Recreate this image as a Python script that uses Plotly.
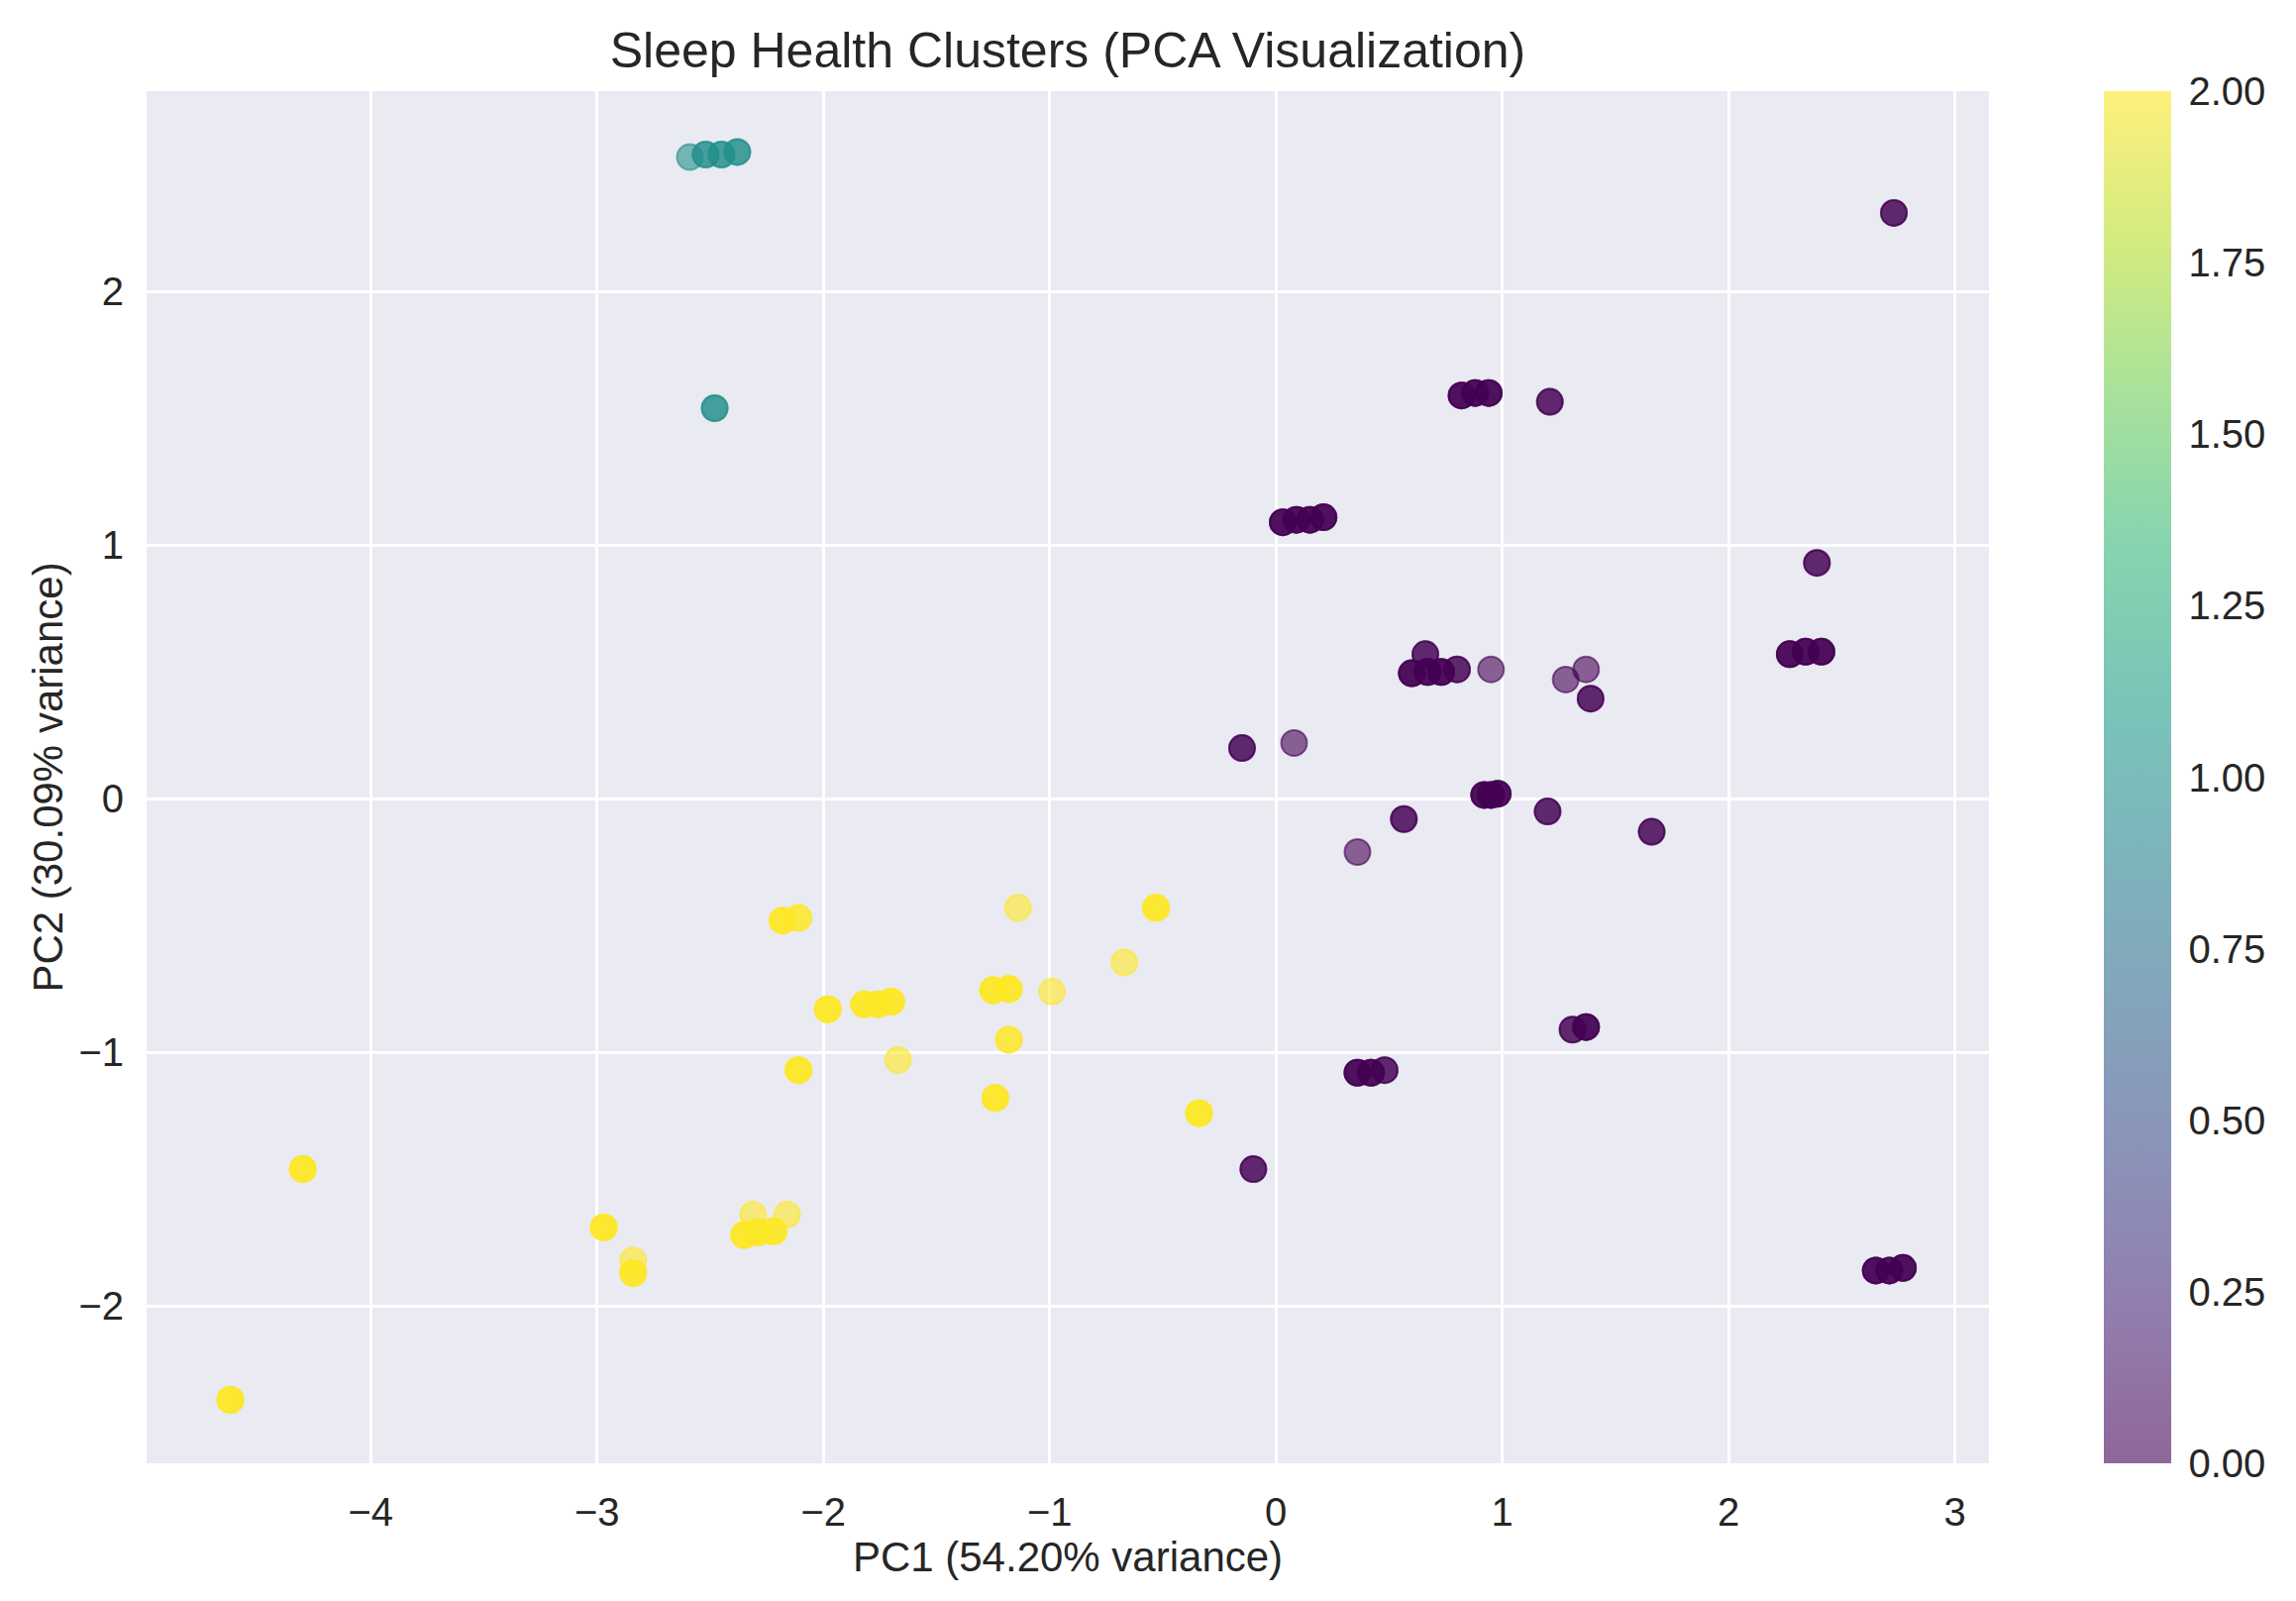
import numpy as np
import plotly.graph_objects as go

# PCA scores (rows: pc1, pc2, cluster, how many rows overlap there)
pc1 = [
    # cluster 1
    -2.59, -2.52, -2.45, -2.38, -2.48,
    # cluster 0
    2.73, 0.82, 0.88, 0.94, 1.21,
    0.03, 0.09, 0.15, 0.21, 2.39,
    2.27, 2.34, 2.41, 0.66, 0.60,
    0.67, 0.73, 0.80, 0.95, 1.28,
    1.37, 1.39, -0.15, 0.08, 0.92,
    0.95, 0.98, 0.565, 1.20, 1.66,
    0.36, 0.36, 0.42, 0.48, 1.31,
    1.37, -0.10, 2.65, 2.71, 2.77,
    # cluster 2
    -2.18, -2.11, -1.14, -0.53, -0.67,
    -1.98, -1.82, -1.76, -1.70, -1.25,
    -1.18, -0.99, -1.18, -1.67, -2.11,
    -1.24, -0.34, -4.30, -2.97, -2.84,
    -2.84, -2.31, -2.16, -2.35, -2.29,
    -2.22, -4.62,
]
pc2 = [
    2.53, 2.54, 2.54, 2.55, 1.54,
    2.31, 1.59, 1.60, 1.60, 1.565,
    1.09, 1.10, 1.10, 1.11, 0.93,
    0.57, 0.58, 0.58, 0.57, 0.495,
    0.50, 0.50, 0.51, 0.51, 0.47,
    0.51, 0.395, 0.20, 0.22, 0.015,
    0.015, 0.02, -0.08, -0.05, -0.13,
    -0.21, -1.08, -1.08, -1.07, -0.91,
    -0.90, -1.46, -1.86, -1.86, -1.85,
    -0.48, -0.47, -0.43, -0.43, -0.645,
    -0.83, -0.81, -0.81, -0.80, -0.755,
    -0.75, -0.76, -0.95, -1.03, -1.07,
    -1.18, -1.24, -1.46, -1.69, -1.82,
    -1.87, -1.64, -1.64, -1.72, -1.71,
    -1.705, -2.37,
]
cluster = [1] * 5 + [0] * 40 + [2] * 27
n_rows = [
    1, 2, 2, 2, 2,
    2, 3, 3, 3, 2,
    3, 3, 3, 3, 2,
    3, 3, 3, 2, 3,
    3, 3, 2, 1, 1,
    1, 2, 2, 1, 3,
    3, 3, 2, 2, 2,
    1, 3, 3, 2, 2,
    3, 2, 3, 3, 3,
    3, 2, 1, 3, 1,
    3, 3, 3, 3, 3,
    3, 1, 2, 1, 3,
    3, 3, 3, 3, 1,
    3, 1, 1, 3, 3,
    3, 3,
]

x = np.repeat(pc1, n_rows)
y = np.repeat(pc2, n_rows)
c = np.repeat(cluster, n_rows)

viridis = ["#440154", "#482878", "#3e4989", "#31688e", "#26828e",
           "#1f9e89", "#35b779", "#6ece58", "#b5de2b", "#fde725"]


def faded(hex_color, alpha=0.6):
    r, g, b = (int(hex_color[i:i + 2], 16) for i in (1, 3, 5))
    return f"rgba({r},{g},{b},{alpha})"


scale = [[i / (len(viridis) - 1), faded(col)] for i, col in enumerate(viridis)]

text_color = "#262626"
font_family = "Liberation Sans, Arial, sans-serif"

fig = go.Figure(go.Scatter(
    x=x,
    y=y,
    mode="markers",
    marker=dict(
        size=26,
        color=c,
        colorscale=scale,
        cmin=0,
        cmax=2,
        line=dict(width=2, color=c, colorscale=scale, cmin=0, cmax=2),
        colorbar=dict(
            thickness=68,
            thicknessmode="pixels",
            len=1,
            lenmode="fraction",
            y=0.5,
            yanchor="middle",
            x=1.0624,
            xanchor="left",
            xpad=0,
            ypad=0,
            outlinewidth=0,
            tickvals=[0, 0.25, 0.5, 0.75, 1, 1.25, 1.5, 1.75, 2],
            tickformat=".2f",
            ticks="outside",
            ticklen=10,
            tickcolor="rgba(0,0,0,0)",
            tickfont=dict(size=40, color=text_color, family=font_family),
        ),
    ),
    showlegend=False,
))

axis_common = dict(
    showgrid=True,
    gridcolor="white",
    gridwidth=2.5,
    zeroline=False,
    showline=False,
    ticks="outside",
    ticklen=14,
    tickcolor="rgba(0,0,0,0)",
    tickfont=dict(size=40, color=text_color, family=font_family),
)

# page body adds an 8px margin, so the figure is a little smaller than the window
fig.update_layout(
    width=2310,
    height=1608,
    paper_bgcolor="white",
    plot_bgcolor="#EAEAF2",
    margin=dict(l=140, r=310, t=84, b=139),
    font=dict(family=font_family, color=text_color),
    title=dict(
        text="Sleep Health Clusters (PCA Visualization)",
        x=0.5,
        xref="paper",
        xanchor="center",
        y=1 - 42 / 1608,
        yref="container",
        yanchor="middle",
        font=dict(size=50, color=text_color, family=font_family),
    ),
    xaxis=dict(
        range=[-4.99, 3.15],
        dtick=1,
        title=dict(text="PC1 (54.20% variance)", standoff=0,
                   font=dict(size=42, color=text_color, family=font_family)),
        **axis_common,
    ),
    yaxis=dict(
        range=[-2.62, 2.79],
        dtick=1,
        title=dict(text="PC2 (30.09% variance)", standoff=2,
                   font=dict(size=42, color=text_color, family=font_family)),
        **axis_common,
    ),
)

fig.write_html("out.html")
